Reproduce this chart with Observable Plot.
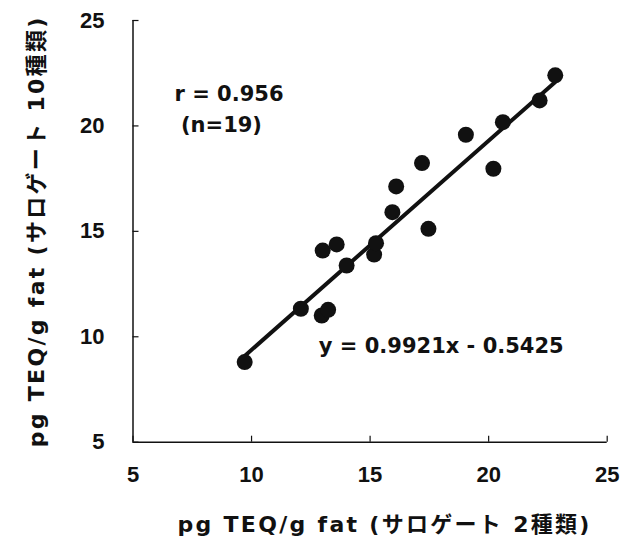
<!DOCTYPE html>
<html>
<head>
<meta charset="utf-8">
<script src="https://cdn.jsdelivr.net/npm/d3@7"></script>
<script src="https://cdn.jsdelivr.net/npm/@observablehq/plot@0.6"></script>
<style>
  html, body { margin: 0; padding: 0; background: #fff; }
</style>
</head>
<body>
<div id="chart"></div>
<script>
// Data
const xValues = [9.71, 12.08, 12.96, 13.23, 13.00, 13.59, 14.01, 15.17, 15.25, 15.94, 16.10, 17.19, 17.46, 19.04, 20.20, 20.60, 22.15, 22.81];
const yValues = [8.80, 11.33, 11.01, 11.28, 14.09, 14.38, 13.38, 13.90, 14.44, 15.91, 17.13, 18.24, 15.12, 19.58, 17.97, 20.18, 21.21, 22.40];
const xTicks = [5, 10, 15, 20, 25];
const yTicks = [5, 10, 15, 20, 25];
const slope = 0.9921;
const intercept = -0.5425;
const xTitle = "pg TEQ/g fat (サロゲート 2種類)";
const yTitle = "pg TEQ/g fat (サロゲート 10種類)";
const rText = "r = 0.956";
const nText = "(n=19)";
const eqText = "y = 0.9921x - 0.5425";

const points = xValues.map((x, i) => ({x, y: yValues[i]}));
const fitLine = d3.extent(xValues).map(x => ({x, y: slope * x + intercept}));
const ink = "#111";
const tickFont = "'Liberation Sans', Arial, sans-serif";

const chart = Plot.plot({
  width: 620,
  height: 556,
  marginLeft: 132.5,
  marginRight: 13.3,
  marginTop: 20,
  marginBottom: 114.3,
  style: {
    fontFamily: "'DejaVu Sans', 'Noto Sans CJK JP', sans-serif",
    fontWeight: "bold",
    background: "#fff",
    color: ink
  },
  x: {domain: [5, 25]},
  y: {domain: [5, 25]},
  marks: [
    Plot.ruleY([5], {stroke: ink, strokeWidth: 1.5}),
    Plot.ruleX([5], {stroke: ink, strokeWidth: 1.5}),
    Plot.axisX({ticks: xTicks, tickSize: -6, tickPadding: 30, fontSize: 22, fontFamily: tickFont, label: null, stroke: ink, strokeWidth: 1.2}),
    Plot.axisY({ticks: yTicks, tickSize: -6, tickPadding: 34.5, fontSize: 22, fontFamily: tickFont, label: null, stroke: ink, strokeWidth: 1.2}),
    Plot.line(fitLine, {x: "x", y: "y", stroke: ink, strokeWidth: 4}),
    Plot.dot(points, {x: "x", y: "y", r: 8, fill: ink, stroke: "none"}),
    Plot.text([rText], {frameAnchor: "top-left", textAnchor: "start", lineAnchor: "middle", dx: 41.5, dy: 74, fontSize: 21, fill: ink}),
    Plot.text([nText], {frameAnchor: "top-left", textAnchor: "start", lineAnchor: "middle", dx: 48, dy: 105, fontSize: 21, fill: ink}),
    Plot.text([eqText], {frameAnchor: "top-left", textAnchor: "start", lineAnchor: "middle", dx: 185.8, dy: 325.3, fontSize: 21, fill: ink}),
    Plot.text([xTitle], {frameAnchor: "bottom", textAnchor: "middle", lineAnchor: "middle", dx: 14.5, dy: 82.3, fontSize: 22, fill: ink}),
    Plot.text([yTitle], {frameAnchor: "left", textAnchor: "middle", lineAnchor: "middle", rotate: -90, dx: -96.5, dy: 0, fontSize: 22, fill: ink})
  ]
});

d3.select(chart).selectAll("text")
  .filter(function() { const t = this.textContent; return t === xTitle || t === yTitle; })
  .attr("letter-spacing", "2.3px");
document.getElementById("chart").appendChild(chart);
</script>
</body>
</html>
